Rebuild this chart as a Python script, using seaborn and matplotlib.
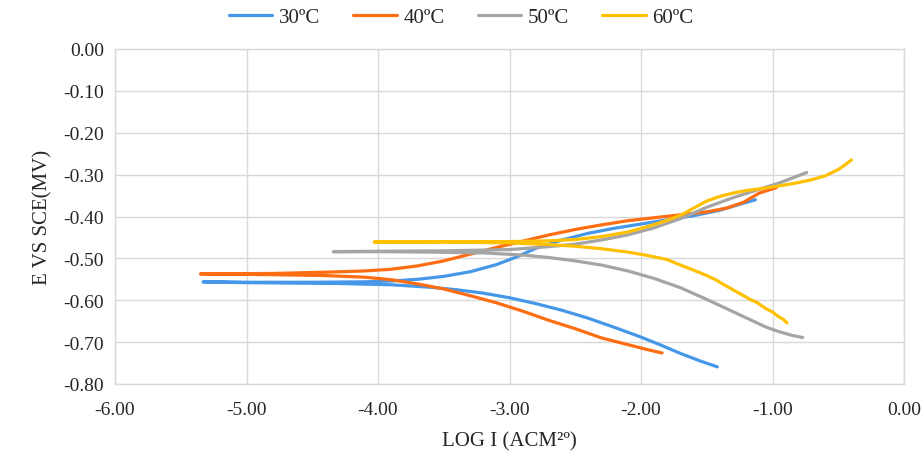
import matplotlib
matplotlib.use("Agg")
import matplotlib.pyplot as plt
import seaborn as sns
import pandas as pd

# ---- data (log I, E); each curve: cathodic end -> Ecorr -> anodic end
series_names = ["30ºC", "40ºC", "50ºC", "60ºC"]

logi_30 = [-1.42, -1.55, -1.70, -1.85, -2.00, -2.20, -2.40, -2.60, -2.80, -3.00, -3.20, -3.40, -3.60, -3.90,
           -4.30, -5.00, -5.33,
           -5.00, -4.50, -4.10, -3.90, -3.70, -3.50, -3.30, -3.10, -2.95, -2.80, -2.60, -2.40, -2.20, -2.00,
           -1.80, -1.60, -1.40, -1.25, -1.13]
e_30 = [-0.759, -0.745, -0.727, -0.707, -0.688, -0.665, -0.643, -0.624, -0.608, -0.594, -0.583, -0.575, -0.569, -0.563,
        -0.560, -0.558, -0.556,
        -0.557, -0.557, -0.556, -0.554, -0.550, -0.543, -0.532, -0.515, -0.497, -0.476, -0.456, -0.440, -0.428, -0.418,
        -0.408, -0.398, -0.385, -0.371, -0.360]

logi_40 = [-1.84, -1.95, -2.10, -2.30, -2.50, -2.70, -2.90, -3.10, -3.30, -3.50, -3.70, -3.90, -4.10, -4.40,
           -4.80, -5.35,
           -4.80, -4.40, -4.10, -3.90, -3.70, -3.50, -3.30, -3.10, -2.90, -2.70, -2.50, -2.30, -2.10, -1.90,
           -1.70, -1.50, -1.35, -1.22, -1.10, -0.97]
e_40 = [-0.726, -0.718, -0.706, -0.690, -0.668, -0.648, -0.626, -0.606, -0.589, -0.573, -0.561, -0.551, -0.545, -0.541,
        -0.539, -0.537,
        -0.536, -0.533, -0.530, -0.526, -0.518, -0.506, -0.490, -0.474, -0.459, -0.444, -0.431, -0.420, -0.410, -0.403,
        -0.396, -0.389, -0.380, -0.366, -0.344, -0.331]

logi_50 = [-0.77, -0.85, -0.95, -1.05, -1.20, -1.35, -1.50, -1.70, -1.90, -2.10, -2.30, -2.50, -2.70, -2.90,
           -3.20, -3.60, -4.00, -4.34,
           -4.00, -3.50, -3.00, -2.70, -2.50, -2.30, -2.10, -1.90, -1.70, -1.50, -1.30, -1.10, -0.94, -0.74]
e_50 = [-0.689, -0.684, -0.675, -0.664, -0.642, -0.620, -0.598, -0.570, -0.548, -0.530, -0.516, -0.506, -0.498, -0.492,
        -0.487, -0.485, -0.484, -0.484,
        -0.483, -0.482, -0.479, -0.472, -0.466, -0.456, -0.444, -0.427, -0.405, -0.378, -0.355, -0.335, -0.319, -0.295]

logi_60 = [-0.89, -0.92, -0.95, -1.00, -1.05, -1.12, -1.17, -1.30, -1.38, -1.42, -1.50, -1.60, -1.70, -1.80,
           -1.95, -2.10, -2.30, -2.50, -2.70, -3.00, -3.50, -4.03,
           -3.50, -3.00, -2.70, -2.50, -2.30, -2.10, -1.95, -1.80, -1.70, -1.60, -1.50, -1.40, -1.30, -1.20,
           -1.07, -0.95, -0.82, -0.70, -0.60, -0.50, -0.45, -0.40]
e_60 = [-0.654, -0.645, -0.640, -0.628, -0.620, -0.605, -0.598, -0.575, -0.561, -0.553, -0.541, -0.528, -0.516, -0.503,
        -0.493, -0.485, -0.477, -0.471, -0.467, -0.463, -0.461, -0.461,
        -0.460, -0.460, -0.458, -0.455, -0.448, -0.437, -0.424, -0.409, -0.397, -0.380, -0.363, -0.352, -0.344, -0.338,
        -0.333, -0.327, -0.320, -0.312, -0.303, -0.288, -0.277, -0.265]

x_ticks = [-6.0, -5.0, -4.0, -3.0, -2.0, -1.0, 0.0]
y_ticks = [0.0, -0.1, -0.2, -0.3, -0.4, -0.5, -0.6, -0.7, -0.8]

colors = ["#4697E8", "#FF6D12", "#A5A5A5", "#FFC000"]

frames = []
for name, xs, ys in zip(series_names, [logi_30, logi_40, logi_50, logi_60], [e_30, e_40, e_50, e_60]):
    frames.append(pd.DataFrame({"logi": xs, "e": ys, "T": name}))
df = pd.concat(frames, ignore_index=True)

sns.set_theme(style="white")
plt.rcParams["font.family"] = ["Liberation Serif", "DejaVu Serif"]
plt.rcParams["axes.unicode_minus"] = False

fig = plt.figure(figsize=(9.22, 4.60), dpi=100)
ax = fig.add_axes([115 / 922, 1 - 385 / 460, (904 - 115) / 922, (385 - 50) / 460])

sns.lineplot(data=df, x="logi", y="e", hue="T", palette=colors, sort=False,
             estimator=None, units="T", linewidth=2.3, ax=ax, legend=True)
for line in ax.get_lines():
    line.set_solid_joinstyle("round")
    line.set_solid_capstyle("round")

ax.set_xlim(-6, 0)
ax.set_ylim(-0.8, 0)
ax.set_xticks(x_ticks)
ax.set_yticks(y_ticks)
ax.set_xticklabels([f"{v:.2f}" for v in x_ticks])
ax.set_yticklabels([f"{v:.2f}" if v != 0 else "0.00" for v in y_ticks])
ax.tick_params(axis="both", length=0, labelsize=14, colors="#262626")
ax.tick_params(axis="x", pad=12)
ax.tick_params(axis="y", pad=8)
ax.grid(True, color="#D9D9D9", linewidth=1.0)
for s in ax.spines.values():
    s.set_color("#D9D9D9")
    s.set_linewidth(1.0)

ax.set_xlabel("LOG I (ACM²º)", fontsize=15, color="#262626", labelpad=10)
ax.set_ylabel("E VS SCE(MV)", fontsize=15, color="#262626", labelpad=8)

handles, labels = ax.get_legend_handles_labels()
ax.legend_.remove()
fig.legend(handles, labels, loc="center", bbox_to_anchor=(0.5, 1 - 18 / 460), ncol=4,
           frameon=False, fontsize=15, handlelength=2.1, columnspacing=1.6, handletextpad=0.3,
           labelcolor="#262626")

fig.savefig("out.png", dpi=100)
